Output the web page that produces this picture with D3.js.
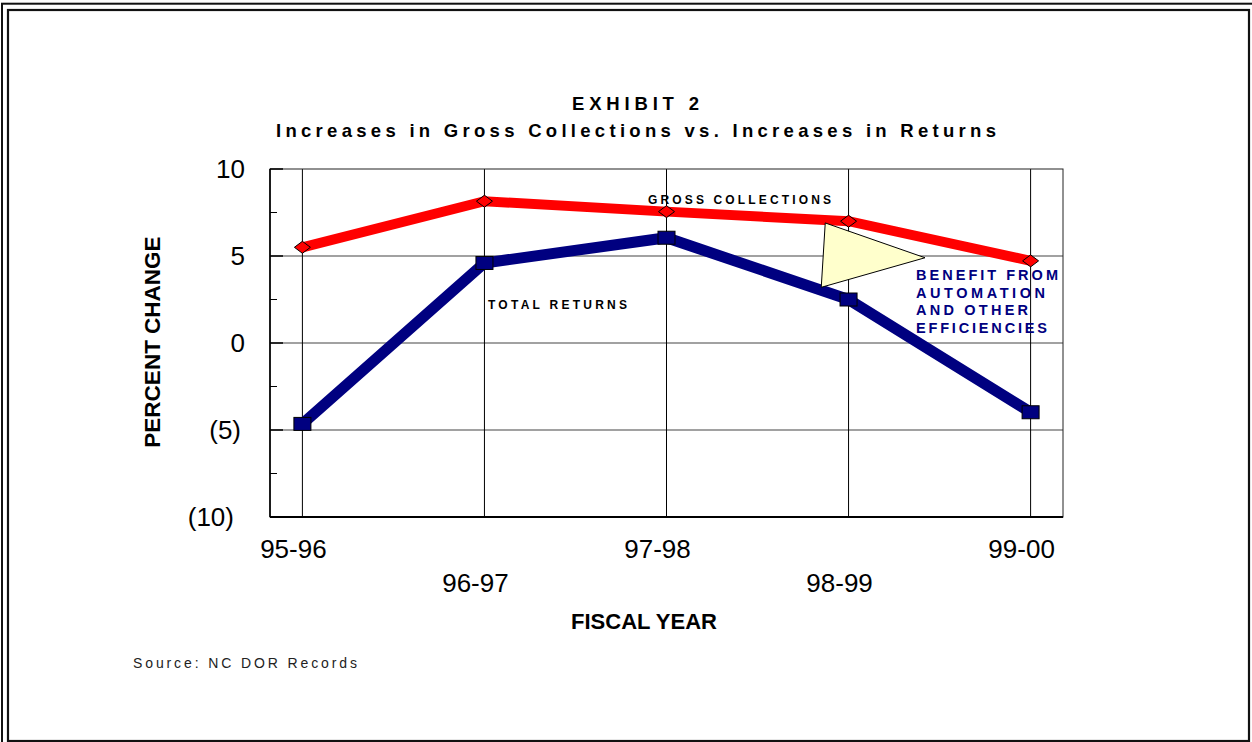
<!DOCTYPE html>
<html><head><meta charset="utf-8">
<script src="https://cdn.jsdelivr.net/npm/d3@7"></script>
<style>html,body{margin:0;padding:0;background:#fff;}svg{display:block;font-family:Arial,"Liberation Sans",sans-serif;}</style>
</head><body>
<script>
const categories = ["95-96","96-97","97-98","98-99","99-00"];
const grossCollections = [5.5, 8.15, 7.55, 7.0, 4.72];
const totalReturns = [-4.65, 4.6, 6.05, 2.5, -3.98];
const yTicks = [10, 5, 0, -5, -10];
const yTickLabels = ["10", "5", "0", "(5)", "(10)"];
const yMinorTicks = [7.5, 2.5, -2.5, -7.5];
// annotation triangle (category-index, value)
const benefitTriangle = [[2.872, 6.9], [3.42, 4.9], [2.85, 3.2]];
const benefitLines = ["BENEFIT FROM", "AUTOMATION", "AND OTHER", "EFFICIENCIES"];

const W = 1252, H = 742;
const svg = d3.select("body").append("svg").attr("width", W).attr("height", H);

// double frame
svg.append("rect").attr("x", 2).attr("y", 3.7).attr("width", 1260).attr("height", 760)
  .attr("fill", "none").attr("stroke", "#111").attr("stroke-width", 2);
svg.append("rect").attr("x", 8).attr("y", 10).attr("width", 1241).attr("height", 731)
  .attr("fill", "none").attr("stroke", "#111").attr("stroke-width", 2.2);

const L = 270, R = 1063, T = 169, B = 517;
const x = d3.scalePoint().domain(categories).range([L, R]).padding(0.178);
const xi = d3.scaleLinear().domain([0, categories.length - 1]).range([x(categories[0]), x(categories[categories.length - 1])]);
const y = d3.scaleLinear().domain([-10, 10]).range([B, T]);

// horizontal gridlines
svg.append("g").selectAll("line").data(yTicks.filter(d => d > -10 && d < 10)).join("line")
  .attr("x1", L).attr("x2", R).attr("y1", d => y(d)).attr("y2", d => y(d))
  .attr("stroke", "#444").attr("stroke-width", 1.2);
// vertical gridlines
svg.append("g").selectAll("line").data(categories).join("line")
  .attr("x1", d => x(d)).attr("x2", d => x(d)).attr("y1", T).attr("y2", B)
  .attr("stroke", "#000").attr("stroke-width", 1);
// plot border
svg.append("rect").attr("x", L).attr("y", T).attr("width", R - L).attr("height", B - T)
  .attr("fill", "none").attr("stroke", "#222").attr("stroke-width", 1);
// left axis & bottom axis heavier
svg.append("line").attr("x1", L).attr("x2", L).attr("y1", T).attr("y2", B).attr("stroke", "#000").attr("stroke-width", 1.6);
svg.append("line").attr("x1", L).attr("x2", R).attr("y1", B).attr("y2", B).attr("stroke", "#000").attr("stroke-width", 2);
// ticks
svg.append("g").selectAll("line").data(yTicks).join("line")
  .attr("x1", L).attr("x2", L + 13).attr("y1", d => y(d)).attr("y2", d => y(d))
  .attr("stroke", "#000").attr("stroke-width", 1.5);
svg.append("g").selectAll("line").data(yMinorTicks).join("line")
  .attr("x1", L).attr("x2", L + 7).attr("y1", d => y(d)).attr("y2", d => y(d))
  .attr("stroke", "#000").attr("stroke-width", 1);

// y tick labels
svg.append("g").selectAll("text").data(yTicks).join("text")
  .attr("x", d => d <= -10 ? 234 : (d < 0 ? 241 : 245))
  .attr("y", d => y(d) + 9)
  .attr("text-anchor", "end").attr("font-size", 26).attr("fill", "#000")
  .text((d, i) => yTickLabels[i]);

// x tick labels staggered
svg.append("g").selectAll("text").data(categories).join("text")
  .attr("x", d => x(d) - 9)
  .attr("y", (d, i) => i % 2 === 0 ? 558 : 592)
  .attr("text-anchor", "middle").attr("font-size", 26).attr("fill", "#000")
  .text(d => d);

// lines
const line = d3.line().x((d, i) => x(categories[i])).y(d => y(d));
svg.append("path").datum(grossCollections).attr("d", line)
  .attr("fill", "none").attr("stroke", "#ff0000").attr("stroke-width", 10).attr("stroke-linejoin", "miter");
svg.append("path").datum(totalReturns).attr("d", line)
  .attr("fill", "none").attr("stroke", "#000080").attr("stroke-width", 11).attr("stroke-linejoin", "miter");

// markers
svg.append("g").selectAll("path").data(grossCollections).join("path")
  .attr("d", (d, i) => {
    const cx = x(categories[i]), cy = y(d);
    return `M${cx - 8},${cy}L${cx},${cy - 6}L${cx + 8},${cy}L${cx},${cy + 6}Z`;
  })
  .attr("fill", "#ff0000").attr("stroke", "#000").attr("stroke-width", 1);
svg.append("g").selectAll("rect").data(totalReturns).join("rect")
  .attr("x", (d, i) => x(categories[i]) - 8.5).attr("y", d => y(d) - 6.5)
  .attr("width", 17).attr("height", 13)
  .attr("fill", "#000080").attr("stroke", "#000").attr("stroke-width", 1);

// annotation triangle
svg.append("path")
  .attr("d", "M" + benefitTriangle.map(p => `${xi(p[0])},${y(p[1])}`).join("L") + "Z")
  .attr("fill", "#ffffcc").attr("stroke", "#000").attr("stroke-width", 1);

function spaced(sel, len) {
  return sel.attr("textLength", len).attr("lengthAdjust", "spacing");
}

// series labels
spaced(svg.append("text").attr("x", 648).attr("y", 204).attr("font-size", 12).attr("font-weight", "bold")
  .attr("fill", "#000").text("GROSS COLLECTIONS"), 183);
spaced(svg.append("text").attr("x", 488).attr("y", 309).attr("font-size", 12).attr("font-weight", "bold")
  .attr("fill", "#000").text("TOTAL RETURNS"), 139);
const bw = [142, 129, 112, 131];
benefitLines.forEach((t, i) => {
  spaced(svg.append("text").attr("x", 916).attr("y", 280 + i * 17.6).attr("font-size", 14.5).attr("font-weight", "bold")
    .attr("fill", "#000080").text(t), bw[i]);
});

// titles
spaced(svg.append("text").attr("x", 572).attr("y", 110).attr("font-size", 18.5).attr("font-weight", "bold")
  .attr("fill", "#000").text("EXHIBIT 2"), 127);
spaced(svg.append("text").attr("x", 276).attr("y", 137).attr("font-size", 18.5).attr("font-weight", "bold")
  .attr("fill", "#000").text("Increases in Gross Collections vs. Increases in Returns"), 720);

// axis titles
svg.append("text").attr("x", 644).attr("y", 629).attr("text-anchor", "middle")
  .attr("font-size", 22).attr("font-weight", "bold").attr("fill", "#000").text("FISCAL YEAR");
svg.append("text").attr("transform", "translate(160,342) rotate(-90)").attr("text-anchor", "middle")
  .attr("font-size", 22.5).attr("font-weight", "bold").attr("fill", "#000").text("PERCENT CHANGE");

// source
spaced(svg.append("text").attr("x", 133).attr("y", 668).attr("font-size", 14)
  .attr("fill", "#222").text("Source: NC DOR Records"), 224);
</script>
</body></html>
